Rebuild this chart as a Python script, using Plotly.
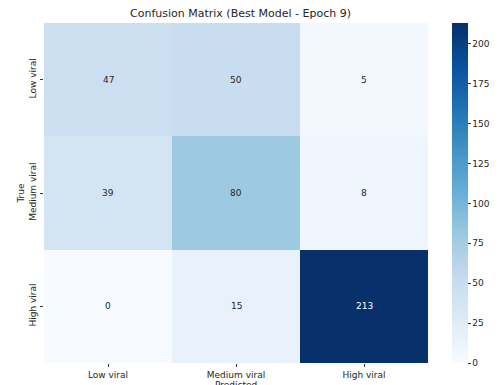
import plotly.graph_objects as go

labels = ["Low viral", "Medium viral", "High viral"]
row_low = [47, 50, 5]
row_medium = [39, 80, 8]
row_high = [0, 15, 213]
matrix = [row_low, row_medium, row_high]
cbar_ticks = [0, 25, 50, 75, 100, 125, 150, 175, 200]
title_text = "Confusion Matrix (Best Model - Epoch 9)"
x_title = "Predicted"
y_title = "True"

blues = ["#f7fbff", "#deebf7", "#c6dbef", "#9ecae1", "#6baed6",
         "#4292c6", "#2171b5", "#08519c", "#08306b"]
colorscale = [[i / (len(blues) - 1), c] for i, c in enumerate(blues)]

vmin = min(min(r) for r in matrix)
vmax = max(max(r) for r in matrix)

FONT = "DejaVu Sans"
TXT = "#262626"

fig = go.Figure(go.Heatmap(
    z=matrix, x=labels, y=labels,
    colorscale=colorscale, zmin=vmin, zmax=vmax,
    xgap=0, ygap=0,
    colorbar=dict(
        thickness=16, thicknessmode="pixels",
        len=340, lenmode="pixels",
        x=1.0636, xanchor="left", xpad=0,
        y=0, yanchor="bottom", ypad=0,
        tickvals=cbar_ticks, ticks="outside", ticklen=3,
        tickcolor="#333", outlinewidth=0,
        tickfont=dict(family=FONT, size=9, color=TXT),
    ),
    hoverinfo="skip",
))

annotations = []
for i, row in enumerate(matrix):
    for j, v in enumerate(row):
        color = "white" if (v - vmin) / (vmax - vmin) > 0.6 else TXT
        annotations.append(dict(
            x=labels[j], y=labels[i], text=str(v), showarrow=False,
            font=dict(family=FONT, size=9, color=color),
        ))

# x-axis title sits at the very bottom edge, as in the reference
annotations.append(dict(
    text=x_title, xref="paper", yref="paper", x=0.5, y=-15 / 340,
    xanchor="center", yanchor="top", showarrow=False,
    font=dict(family=FONT, size=9, color=TXT),
))

fig.update_layout(
    width=503, height=385,
    margin=dict(l=44, r=66, t=23, b=22),
    paper_bgcolor="white", plot_bgcolor="white",
    title=dict(text=title_text, x=(44 + 437) / 2 / 503, xanchor="center",
               y=1 - 13 / 385, yanchor="middle",
               font=dict(family=FONT, size=11, color=TXT)),
    annotations=annotations,
    xaxis=dict(
        showgrid=False, zeroline=False, ticks="outside", ticklen=3,
        automargin=False,
        tickcolor="#333", tickfont=dict(family=FONT, size=9, color=TXT),
    ),
    yaxis=dict(
        showgrid=False, zeroline=False, autorange="reversed",
        automargin=False,
        ticks="outside", ticklen=3, tickcolor="#333", tickangle=-90,
        tickfont=dict(family=FONT, size=9, color=TXT),
        title=dict(text=y_title, standoff=2,
                   font=dict(family=FONT, size=9, color=TXT)),
    ),
)

fig.write_html("out.html")
